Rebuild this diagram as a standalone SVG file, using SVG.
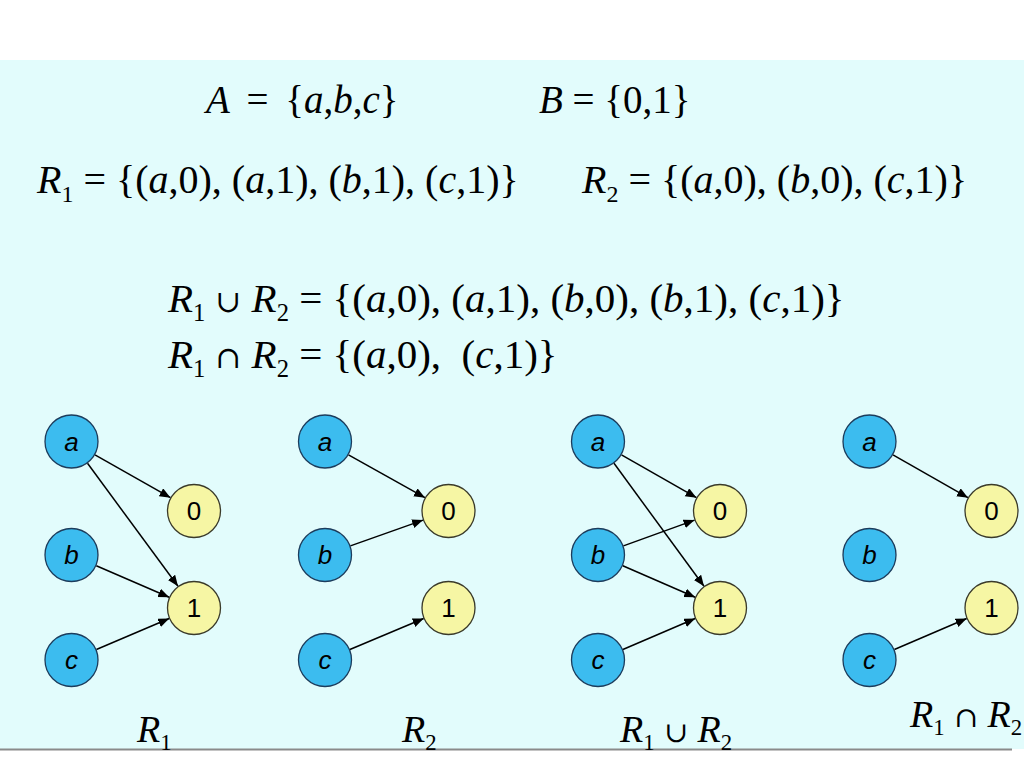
<svg xmlns="http://www.w3.org/2000/svg" width="1024" height="767" viewBox="0 0 1024 767">
<defs>
<style>
.m{font-family:"Liberation Serif","Times New Roman",serif;fill:#000}
.i{font-style:italic}
.s{font-size:60%}
.u{font-family:"DejaVu Serif",serif;font-size:75%}
.na{fill:#3cbcef;stroke:#1c3c5c;stroke-width:1.3}
.nn{fill:#f6f6a4;stroke:#3a3a2a;stroke-width:1.3}
.lb{font-family:"Liberation Sans",Arial,sans-serif;font-size:26px;text-anchor:middle;fill:#000}
.e{stroke:#000;stroke-width:1.5;fill:none;marker-end:url(#ah)}
</style>
<marker id="ah" markerUnits="userSpaceOnUse" markerWidth="12" markerHeight="10" refX="11" refY="4.5" orient="auto">
<path d="M0,0 L11,4.5 L0,9 Z" fill="#000"/>
</marker>
</defs>
<rect x="0" y="0" width="1024" height="767" fill="#ffffff"/>
<rect x="0" y="60" width="1024" height="689" fill="#e2fcfc"/>
<line x1="0" y1="749.5" x2="1012" y2="749.5" stroke="#8a8a8a" stroke-width="2"/>

<g id="formulas">
<text class="m" x="206" y="113" font-size="39" word-spacing="7"><tspan class="i">A</tspan> = {<tspan class="i">a</tspan>,<tspan class="i">b</tspan>,<tspan class="i">c</tspan>}</text>
<text class="m" x="539" y="113" font-size="39"><tspan class="i">B</tspan> = {0,1}</text>
<text class="m" x="37" y="193" font-size="40"><tspan class="i">R</tspan><tspan class="s" dy="9">1</tspan><tspan dy="-9"> = {(</tspan><tspan class="i">a</tspan>,0), (<tspan class="i">a</tspan>,1), (<tspan class="i">b</tspan>,1), (<tspan class="i">c</tspan>,1)}</text>
<text class="m" x="582" y="193" font-size="40"><tspan class="i">R</tspan><tspan class="s" dy="9">2</tspan><tspan dy="-9"> = {(</tspan><tspan class="i">a</tspan>,0), (<tspan class="i">b</tspan>,0), (<tspan class="i">c</tspan>,1)}</text>
<text class="m" x="168" y="312" font-size="41"><tspan class="i">R</tspan><tspan class="s" dy="9">1</tspan><tspan dy="-9"> </tspan><tspan class="u">∪</tspan> <tspan class="i">R</tspan><tspan class="s" dy="9">2</tspan><tspan dy="-9"> = {(</tspan><tspan class="i">a</tspan>,0), (<tspan class="i">a</tspan>,1), (<tspan class="i">b</tspan>,0), (<tspan class="i">b</tspan>,1), (<tspan class="i">c</tspan>,1)}</text>
<text class="m" x="168" y="368" font-size="41" xml:space="preserve"><tspan class="i">R</tspan><tspan class="s" dy="9">1</tspan><tspan dy="-9"> </tspan><tspan class="u">∩</tspan> <tspan class="i">R</tspan><tspan class="s" dy="9">2</tspan><tspan dy="-9"> = {(</tspan><tspan class="i">a</tspan>,0),  (<tspan class="i">c</tspan>,1)}</text>
</g>

<g id="captions">
<text class="m" x="137" y="742" font-size="38"><tspan class="i">R</tspan><tspan class="s" dy="8">1</tspan></text>
<text class="m" x="402" y="742" font-size="38"><tspan class="i">R</tspan><tspan class="s" dy="8">2</tspan></text>
<text class="m" x="620" y="742" font-size="38"><tspan class="i">R</tspan><tspan class="s" dy="8">1</tspan><tspan dy="-8"> </tspan><tspan class="u">∪</tspan> <tspan class="i">R</tspan><tspan class="s" dy="8">2</tspan></text>
<text class="m" x="910" y="727" font-size="38"><tspan class="i">R</tspan><tspan class="s" dy="8">1</tspan><tspan dy="-8"> </tspan><tspan class="u">∩</tspan> <tspan class="i">R</tspan><tspan class="s" dy="8">2</tspan></text>
</g>

<g id="connectors">
<line class="e" x1="95" y1="454.8" x2="170.5" y2="497.7"/>
<line class="e" x1="87.5" y1="463.3" x2="178" y2="586.3"/>
<line class="e" x1="96.3" y1="565.7" x2="169.2" y2="597.3"/>
<line class="e" x1="96.4" y1="649.5" x2="169.2" y2="618.5"/>
<line class="e" x1="348.5" y1="454.8" x2="425" y2="497.7"/>
<line class="e" x1="350.4" y1="545.9" x2="423.1" y2="520.1"/>
<line class="e" x1="349.9" y1="649.5" x2="423.7" y2="618.5"/>
<line class="e" x1="621.5" y1="454.8" x2="696.5" y2="497.7"/>
<line class="e" x1="614" y1="463.3" x2="704" y2="586.3"/>
<line class="e" x1="623.4" y1="545.9" x2="694.6" y2="520.1"/>
<line class="e" x1="622.8" y1="565.7" x2="695.2" y2="597.3"/>
<line class="e" x1="622.9" y1="649.5" x2="695.2" y2="618.5"/>
<line class="e" x1="893" y1="454.8" x2="968" y2="497.7"/>
<line class="e" x1="894.4" y1="649.5" x2="966.7" y2="618.5"/>
</g>

<g id="g1-a"><circle class="na" cx="71.5" cy="441.5" r="26.5"/><text class="lb" x="71.5" y="450.5" font-style="italic">a</text></g>
<g id="g1-b"><circle class="na" cx="71.5" cy="555" r="26.5"/><text class="lb" x="71.5" y="564" font-style="italic">b</text></g>
<g id="g1-c"><circle class="na" cx="71.5" cy="660" r="26.5"/><text class="lb" x="71.5" y="669" font-style="italic">c</text></g>
<g id="g1-0"><circle class="nn" cx="194" cy="511" r="26.5"/><text class="lb" x="194" y="520">0</text></g>
<g id="g1-1"><circle class="nn" cx="194" cy="608" r="26.5"/><text class="lb" x="194" y="617">1</text></g>

<g id="g2-a"><circle class="na" cx="325" cy="441.5" r="26.5"/><text class="lb" x="325" y="450.5" font-style="italic">a</text></g>
<g id="g2-b"><circle class="na" cx="325" cy="555" r="26.5"/><text class="lb" x="325" y="564" font-style="italic">b</text></g>
<g id="g2-c"><circle class="na" cx="325" cy="660" r="26.5"/><text class="lb" x="325" y="669" font-style="italic">c</text></g>
<g id="g2-0"><circle class="nn" cx="448.5" cy="511" r="26.5"/><text class="lb" x="448.5" y="520">0</text></g>
<g id="g2-1"><circle class="nn" cx="448.5" cy="608" r="26.5"/><text class="lb" x="448.5" y="617">1</text></g>

<g id="g3-a"><circle class="na" cx="598" cy="441.5" r="26.5"/><text class="lb" x="598" y="450.5" font-style="italic">a</text></g>
<g id="g3-b"><circle class="na" cx="598" cy="555" r="26.5"/><text class="lb" x="598" y="564" font-style="italic">b</text></g>
<g id="g3-c"><circle class="na" cx="598" cy="660" r="26.5"/><text class="lb" x="598" y="669" font-style="italic">c</text></g>
<g id="g3-0"><circle class="nn" cx="720" cy="511" r="26.5"/><text class="lb" x="720" y="520">0</text></g>
<g id="g3-1"><circle class="nn" cx="720" cy="608" r="26.5"/><text class="lb" x="720" y="617">1</text></g>

<g id="g4-a"><circle class="na" cx="869.5" cy="441.5" r="26.5"/><text class="lb" x="869.5" y="450.5" font-style="italic">a</text></g>
<g id="g4-b"><circle class="na" cx="869.5" cy="555" r="26.5"/><text class="lb" x="869.5" y="564" font-style="italic">b</text></g>
<g id="g4-c"><circle class="na" cx="869.5" cy="660" r="26.5"/><text class="lb" x="869.5" y="669" font-style="italic">c</text></g>
<g id="g4-0"><circle class="nn" cx="991.5" cy="511" r="26.5"/><text class="lb" x="991.5" y="520">0</text></g>
<g id="g4-1"><circle class="nn" cx="991.5" cy="608" r="26.5"/><text class="lb" x="991.5" y="617">1</text></g>
</svg>
